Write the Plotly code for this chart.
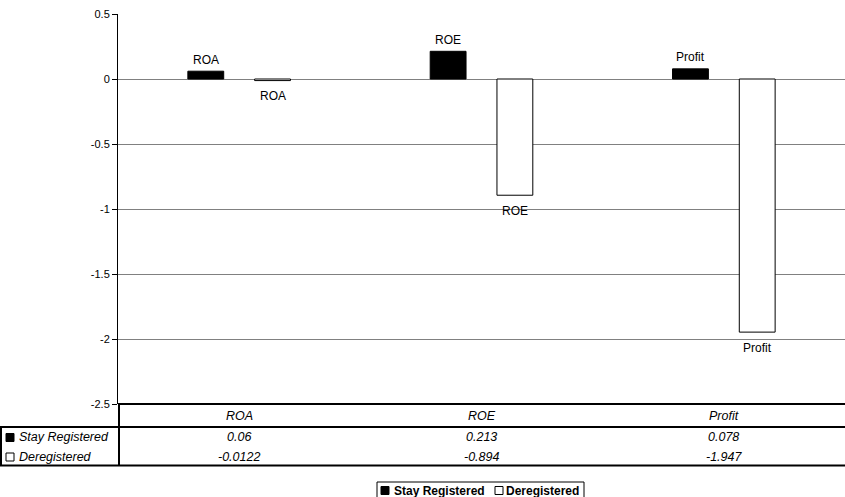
import plotly.graph_objects as go

categories = ["ROA", "ROE", "Profit"]
series_names = ["Stay Registered", "Deregistered"]
stay_registered = [0.06, 0.213, 0.078]
deregistered = [-0.0122, -0.894, -1.947]
y_ticks = [0.5, 0, -0.5, -1, -1.5, -2, -2.5]
y_tick_labels = ["0.5", "0", "-0.5", "-1", "-1.5", "-2", "-2.5"]

W, H = 845, 497
L, R, T, B = 118, 0, 14, 93
PW = W - L - R
PH = H - T - B
FONT = "Liberation Sans, Arial, sans-serif"


def px(x):
    return (x - L) / PW


def py(y):
    return (H - B - y) / PH


series = [stay_registered, deregistered]
fills = ["black", "white"]

fig = go.Figure()
for i, name in enumerate(series_names):
    fig.add_trace(go.Bar(
        x=categories, y=series[i], name=name,
        marker=dict(color=fills[i], line=dict(color="black", width=1)),
        showlegend=False,
    ))

shapes = []
annotations = []

# bar category labels
offsets = [-33.5, 33.5]
for i, vals in enumerate(series):
    for j, cat in enumerate(categories):
        v = vals[j]
        annotations.append(dict(
            xref="x", yref="y", x=cat, y=v, xshift=offsets[i],
            yshift=11.5 if v >= 0 else -15.5,
            text=cat, showarrow=False, xanchor="center", yanchor="middle",
            font=dict(family=FONT, size=12, color="black")))

thick = dict(color="black", width=2)
# data table lines
shapes.append(dict(type="line", xref="paper", yref="paper", x0=px(118), x1=px(846), y0=py(404), y1=py(404), line=thick))
shapes.append(dict(type="line", xref="paper", yref="paper", x0=px(0), x1=px(846), y0=py(427), y1=py(427), line=thick))
shapes.append(dict(type="line", xref="paper", yref="paper", x0=px(0), x1=px(846), y0=py(465.5), y1=py(465.5), line=thick))
shapes.append(dict(type="line", xref="paper", yref="paper", x0=px(119), x1=px(119), y0=py(404), y1=py(465.5), line=thick))
shapes.append(dict(type="line", xref="paper", yref="paper", x0=px(1), x1=px(1), y0=py(427), y1=py(465.5), line=thick))

row_y = [437.5, 457]
for i, name in enumerate(series_names):
    yc = row_y[i]
    shapes.append(dict(type="rect", xref="paper", yref="paper",
                       x0=px(6), x1=px(14), y0=py(yc - 4), y1=py(yc + 4),
                       fillcolor=fills[i], line=dict(color="black", width=1)))
    annotations.append(dict(xref="paper", yref="paper", x=px(17), y=py(yc),
                            text="<i>%s</i>" % name, showarrow=False,
                            xanchor="left", yanchor="middle",
                            font=dict(family=FONT, size=12.5, color="black")))

for j, cat in enumerate(categories):
    annotations.append(dict(xref="x", yref="paper", x=cat, y=py(416),
                            text="<i>%s</i>" % cat, showarrow=False,
                            yanchor="middle",
                            font=dict(family=FONT, size=12.5, color="black")))
    for i, vals in enumerate(series):
        annotations.append(dict(xref="x", yref="paper", x=cat, y=py(row_y[i]),
                                text="<i>%s</i>" % str(vals[j]), showarrow=False,
                                yanchor="middle",
                                font=dict(family=FONT, size=12.5, color="black")))

# legend (drawn manually so it does not push the margins)
shapes.append(dict(type="rect", xref="paper", yref="paper",
                   x0=px(377), x1=px(584), y0=py(482), y1=py(499),
                   fillcolor="white", line=dict(color="black", width=1)))
leg_sq = [381, 495]
leg_tx = [392, 504]
for i, name in enumerate(series_names):
    shapes.append(dict(type="rect", xref="paper", yref="paper",
                       x0=px(leg_sq[i]), x1=px(leg_sq[i] + 8), y0=py(486.5), y1=py(494.5),
                       fillcolor=fills[i], line=dict(color="black", width=1)))
    annotations.append(dict(xref="paper", yref="paper", x=px(leg_tx[i]), y=py(490.5),
                            text="<b>%s</b>" % name, showarrow=False,
                            xanchor="left", yanchor="middle",
                            font=dict(family=FONT, size=12, color="black")))

fig.update_layout(
    width=W, height=H,
    margin=dict(l=L, r=R, t=T, b=B, pad=0, autoexpand=False),
    paper_bgcolor="white", plot_bgcolor="white",
    barmode="group", bargap=0.449, bargroupgap=0.463,
    font=dict(family=FONT, size=11, color="black"),
    showlegend=False,
    shapes=shapes, annotations=annotations,
)
fig.update_xaxes(showticklabels=False, showgrid=False, zeroline=False,
                 showline=False, ticks="", fixedrange=True)
fig.update_yaxes(range=[-2.5, 0.5], tickvals=y_ticks, ticktext=y_tick_labels,
                 showgrid=True, gridcolor="#808080", gridwidth=1,
                 zeroline=True, zerolinecolor="#808080", zerolinewidth=1,
                 showline=True, linecolor="black", linewidth=1,
                 ticks="outside", ticklen=5, tickcolor="black",
                 tickfont=dict(family=FONT, size=11, color="black"),
                 fixedrange=True)

fig.write_html("out.html", config={"displayModeBar": False},
               post_script="document.body.style.margin='0';document.body.style.overflow='hidden';")
